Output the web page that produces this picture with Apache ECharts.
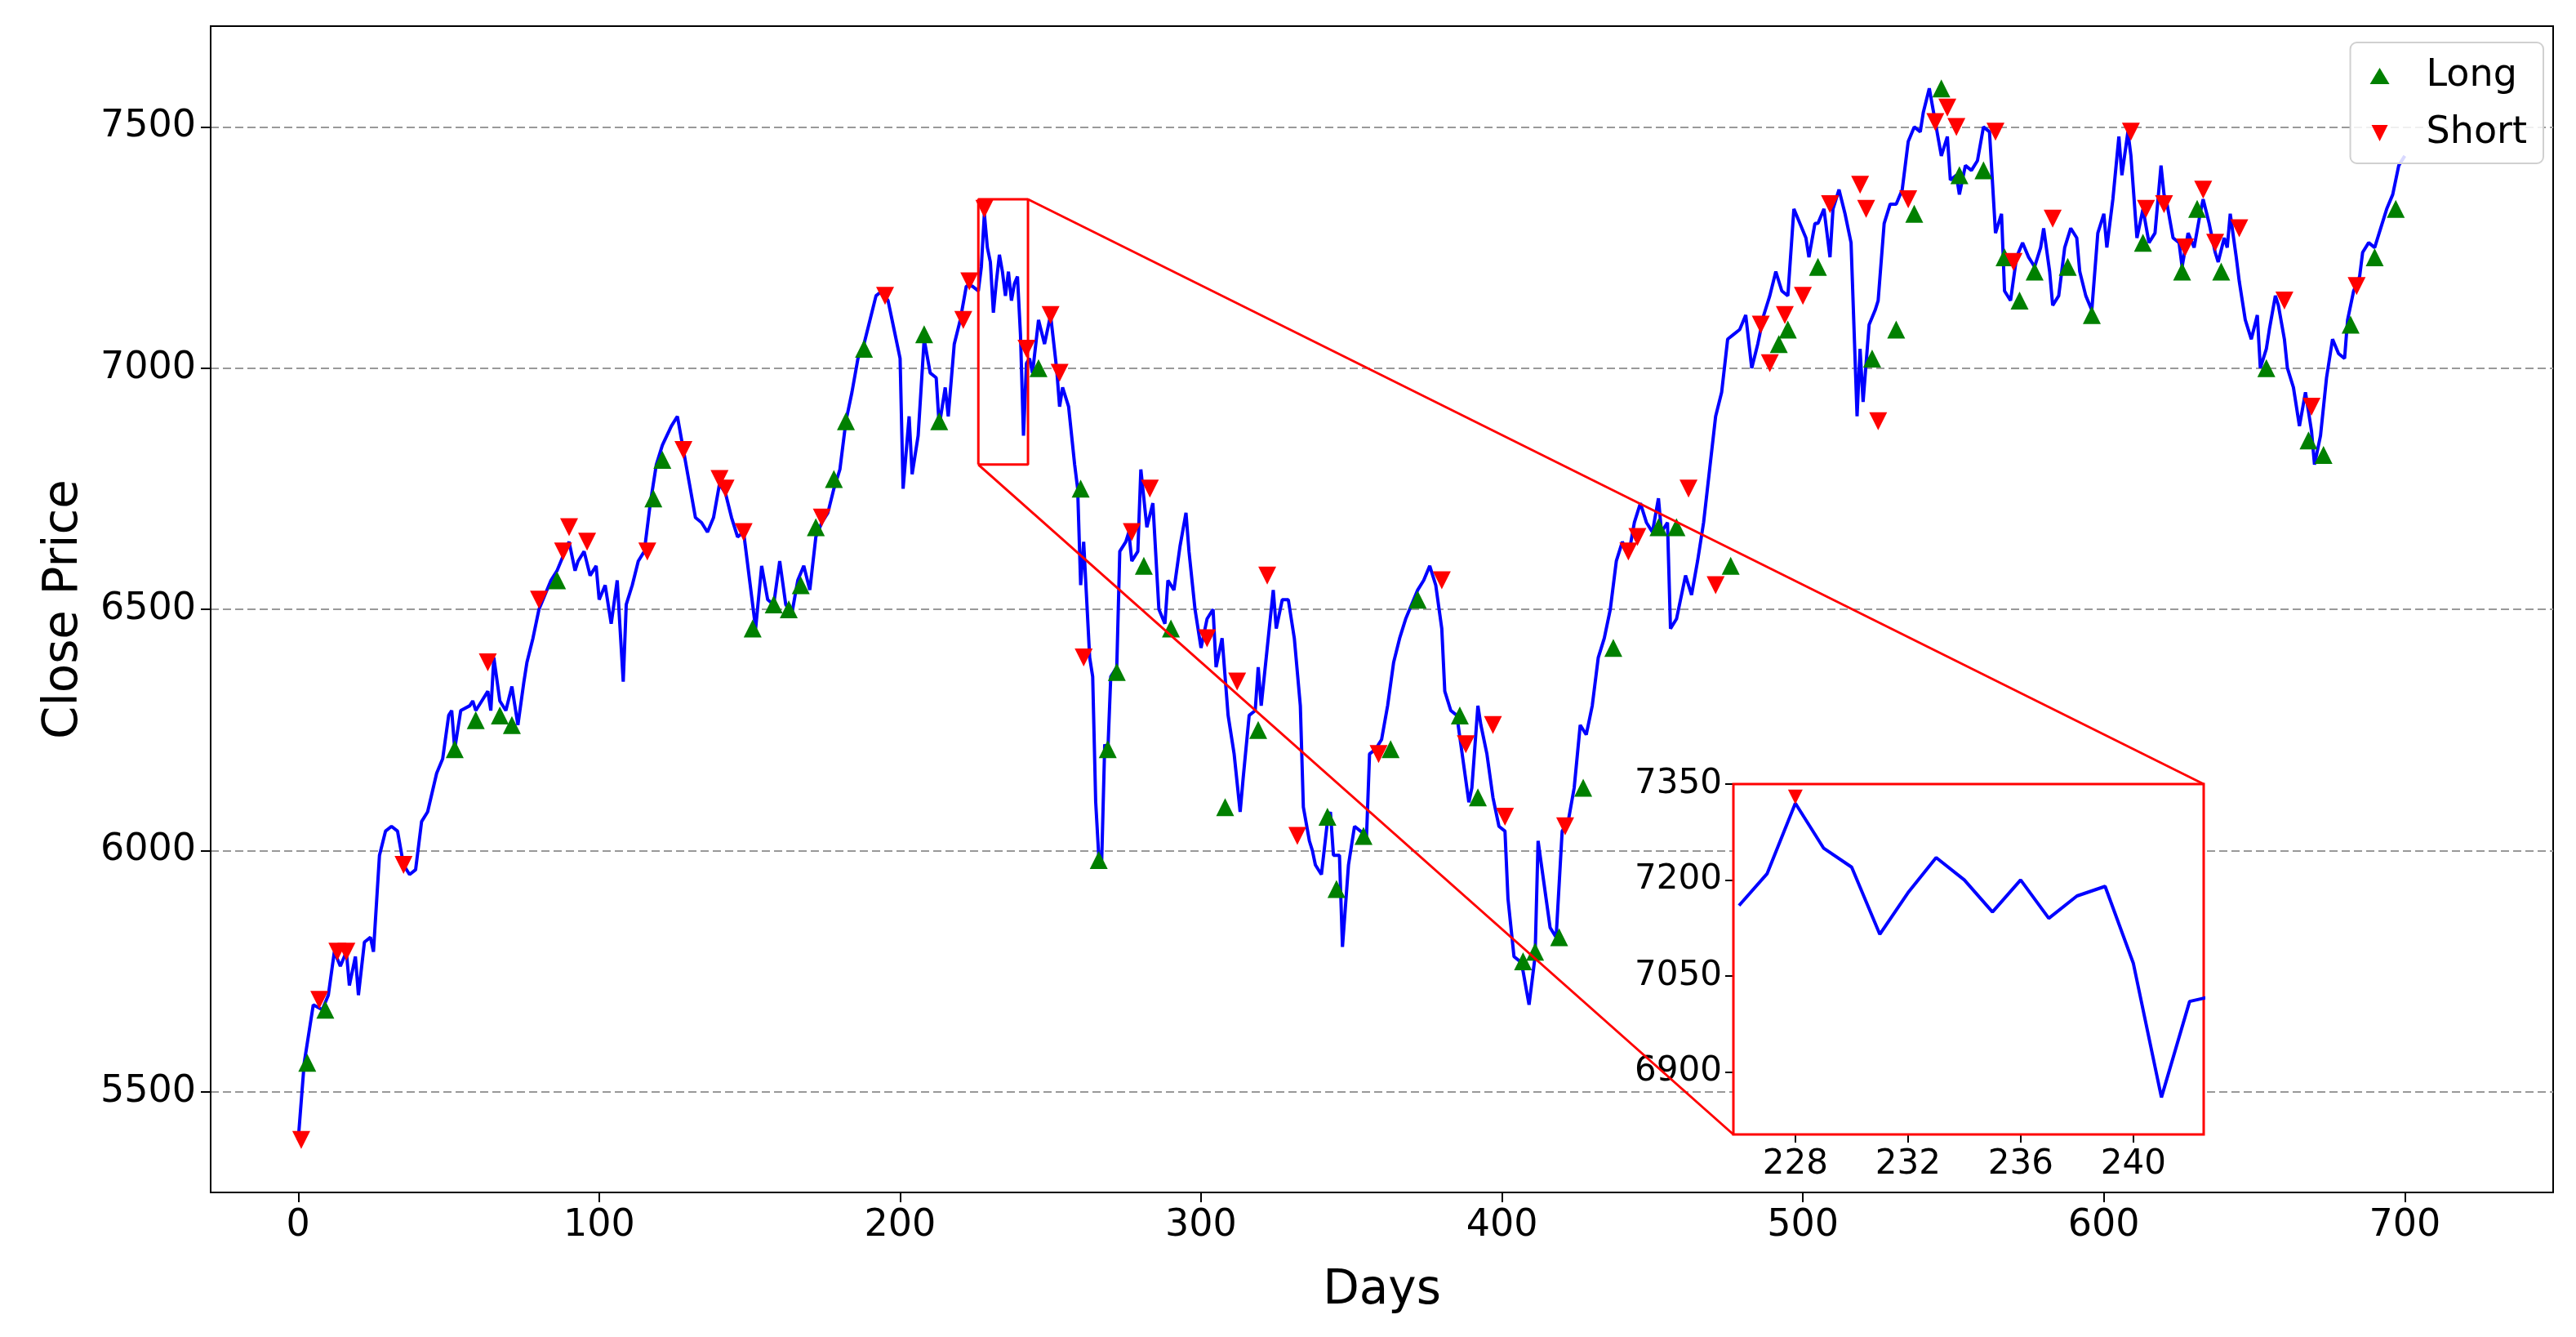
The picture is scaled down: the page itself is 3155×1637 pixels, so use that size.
<!DOCTYPE html>
<html>
<head>
<meta charset="utf-8">
<script src="https://cdn.jsdelivr.net/npm/echarts@6/dist/echarts.min.js"></script>
<style>html,body{margin:0;padding:0;background:#fff}#main{width:3155px;height:1637px}</style>
</head>
<body>
<div id="main"></div>
<script>
// close price (day, value)
var days = [0,2,5,8,10,12,14,16,17,19,20,22,24,25,27,29,31,33,35,37,39,41,43,46,48,50,51,52,54,57,58,59,61,63,64,65,67,69,71,73,75,76,78,80,82,84,86,88,90,92,93,95,97,99,100,102,104,106,108,109,111,113,115,117,119,121,124,126,128,130,132,134,136,138,140,142,144,146,148,150,152,154,156,158,160,162,164,166,168,170,172,174,176,178,180,182,184,186,188,190,192,194,196,198,200,201,203,204,206,208,210,212,213,215,216,218,220,222,224,226,227,228,229,230,231,232,233,234,235,236,237,238,239,240,241,242,243,244,246,248,250,252,253,254,256,258,259,260,261,262,263,264,265,266,267,268,269,270,272,273,275,276,277,279,280,282,284,286,288,289,291,293,295,296,298,300,302,304,305,307,308,309,311,313,314,316,318,319,320,322,324,325,327,329,331,333,334,336,337,338,340,342,343,344,346,347,349,351,353,355,356,358,360,362,364,366,368,370,372,374,376,378,380,381,383,385,387,389,390,392,393,395,397,399,401,402,404,406,407,409,411,412,414,416,418,420,422,424,426,428,430,432,434,436,438,440,442,444,446,448,450,452,453,455,456,458,460,461,463,465,467,469,471,473,475,477,479,481,483,485,487,489,491,493,495,497,499,501,502,504,505,507,509,510,512,514,516,518,519,520,522,524,525,527,529,531,533,535,537,539,540,542,544,546,548,549,551,552,554,556,558,560,562,564,566,567,569,571,573,575,577,579,580,582,583,585,587,589,591,592,594,596,598,600,601,603,605,606,608,609,611,612,613,615,617,619,620,621,623,625,626,628,630,632,633,635,637,638,640,641,642,644,645,647,649,651,652,654,655,657,658,660,661,663,665,667,669,670,672,674,676,678,680,681,683,685,686,688,690,692,694,696,698,700];
var prices = [5400,5560,5680,5670,5700,5790,5760,5790,5720,5780,5700,5810,5820,5790,5990,6040,6050,6040,5970,5950,5960,6060,6080,6160,6190,6280,6290,6210,6290,6300,6310,6290,6310,6330,6290,6400,6310,6290,6340,6260,6350,6390,6440,6500,6530,6560,6580,6610,6640,6580,6600,6620,6570,6590,6520,6550,6470,6560,6350,6510,6550,6600,6620,6720,6800,6840,6880,6900,6830,6760,6690,6680,6660,6690,6760,6740,6690,6650,6660,6560,6460,6590,6520,6510,6600,6510,6490,6560,6590,6540,6650,6680,6700,6750,6790,6890,6950,7020,7050,7100,7150,7160,7140,7080,7020,6750,6900,6780,6860,7060,6990,6980,6880,6960,6900,7050,7100,7170,7170,7160,7210,7320,7250,7220,7115,7180,7235,7200,7150,7200,7140,7175,7190,7070,6860,7010,7020,6990,7100,7050,7110,7000,6920,6960,6920,6800,6750,6550,6640,6520,6400,6360,6100,5990,5980,6220,6200,6360,6380,6620,6640,6660,6600,6620,6790,6670,6720,6500,6470,6560,6540,6630,6700,6620,6500,6420,6480,6500,6380,6440,6360,6280,6200,6080,6150,6280,6290,6380,6300,6420,6540,6460,6520,6520,6440,6300,6090,6020,6000,5970,5950,6060,6080,5990,5990,5800,5970,6050,6040,6030,6200,6210,6230,6300,6390,6440,6480,6510,6540,6560,6590,6550,6460,6330,6290,6280,6190,6100,6130,6300,6260,6200,6110,6050,6040,5900,5780,5770,5750,5680,5780,6020,5930,5840,5820,6040,6060,6130,6260,6240,6300,6400,6440,6500,6600,6640,6610,6680,6720,6680,6660,6730,6660,6680,6460,6480,6540,6570,6530,6600,6680,6790,6900,6950,7060,7070,7080,7110,7000,7050,7110,7150,7200,7160,7150,7330,7300,7270,7230,7300,7300,7330,7230,7330,7370,7320,7260,6900,7040,6930,7090,7120,7140,7300,7340,7340,7370,7470,7500,7490,7530,7580,7510,7440,7480,7390,7400,7360,7420,7410,7430,7500,7490,7280,7320,7160,7140,7230,7260,7230,7210,7250,7290,7200,7130,7150,7250,7290,7270,7200,7150,7120,7280,7320,7250,7350,7480,7400,7490,7440,7270,7300,7330,7260,7280,7420,7360,7340,7270,7260,7210,7280,7250,7320,7350,7300,7240,7220,7270,7250,7320,7230,7180,7100,7060,7110,7000,7040,7080,7150,7130,7060,7000,6960,6880,6950,6870,6800,6860,6980,7060,7030,7020,7100,7160,7190,7240,7260,7250,7290,7330,7360,7420,7440];

var longDays = [3,9,52,59,67,71,86,118,121,151,158,163,167,172,178,182,188,208,213,246,260,266,269,272,281,290,308,319,342,345,354,363,372,386,392,407,411,419,427,437,452,458,476,492,495,505,523,531,537,546,552,560,567,572,577,588,596,613,626,631,639,654,668,673,682,690,697];
var longVals = [5560,5670,6210,6270,6280,6260,6560,6730,6810,6460,6510,6500,6550,6670,6770,6890,7040,7070,6890,7000,6750,5980,6210,6370,6590,6460,6090,6250,6070,5920,6030,6210,6520,6280,6110,5770,5790,5820,6130,6420,6670,6670,6590,7050,7080,7210,7020,7080,7320,7580,7400,7410,7230,7140,7200,7210,7110,7260,7200,7330,7200,7000,6850,6820,7090,7230,7330];
var shortDays = [1,7,13,16,35,63,80,88,90,96,116,128,140,142,148,174,195,221,223,228,242,250,253,261,277,283,302,312,322,332,359,380,388,397,401,421,442,445,462,471,486,489,494,500,509,519,521,525,535,544,548,551,564,570,583,609,614,620,627,633,637,645,660,669,684];
var shortVals = [5400,5690,5790,5790,5970,6390,6520,6620,6670,6640,6620,6830,6770,6750,6660,6690,7150,7100,7180,7330,7040,7110,6990,6400,6660,6750,6440,6350,6570,6030,6200,6560,6220,6260,6070,6050,6620,6650,6750,6550,7090,7010,7110,7150,7340,7380,7330,6890,7350,7510,7540,7500,7490,7220,7310,7490,7330,7340,7250,7370,7260,7290,7140,6920,7170];

var yTicks = [5500, 6000, 6500, 7000, 7500];
var xTicks = [0, 100, 200, 300, 400, 500, 600, 700];
var zoomX = [228, 232, 236, 240];
var zoomY = [6900, 7050, 7200, 7350];
var zoomBox = {x0: 226, x1: 242.5, y0: 6800, y1: 7350};

function pairs(xs, ys) { return xs.map(function (x, i) { return [x, ys[i]]; }); }
var line = pairs(days, prices);
var zoomLine = line.filter(function (p) { return p[0] >= 225 && p[0] <= 243; });
function plain(v) { return String(v); }

var myChart = echarts.init(document.getElementById('main'));
var F = 'DejaVu Sans';
var option = {
    animation: false,
    textStyle: {fontFamily: F},
    grid: [
        {left: 258, right: 28, top: 32, bottom: 177, show: true, borderColor: '#000', borderWidth: 2},
        {left: 2123, width: 576, top: 960, height: 429, show: true, borderColor: '#ff0000', borderWidth: 3, backgroundColor: '#fff', z: 10}
    ],
    legend: {
        right: 40, top: 52, orient: 'vertical', itemGap: 24, padding: [18, 20, 14, 24],
        borderColor: '#d0d0d0', borderWidth: 2, borderRadius: 8, backgroundColor: 'rgba(255,255,255,0.85)',
        itemWidth: 24, itemHeight: 20, textStyle: {fontSize: 46, color: '#000', fontFamily: F, padding: [0, 0, 0, 40]},
        data: [{name: 'Long', icon: 'triangle'}, {name: 'Short', icon: 'path://M0,0 L10,0 L5,10 Z'}]
    },
    xAxis: [
        {type: 'value', gridIndex: 0, min: -29.1, max: 749.3, name: 'Days', nameLocation: 'middle', nameGap: 92,
         nameTextStyle: {fontSize: 58, color: '#000'},
         axisLine: {onZero: false, lineStyle: {color: '#000', width: 2}},
         axisTick: {length: 12, lineStyle: {color: '#000', width: 2}, customValues: xTicks},
         axisLabel: {fontSize: 46, color: '#000', margin: 18, customValues: xTicks, formatter: plain},
         splitLine: {show: false}},
        {type: 'value', gridIndex: 1, min: 225.8, max: 242.5,
         axisLine: {show: false},
         axisTick: {length: 10, lineStyle: {color: '#000', width: 2}, customValues: zoomX},
         axisLabel: {fontSize: 42, color: '#000', margin: 16, customValues: zoomX, formatter: plain},
         splitLine: {show: false}}
    ],
    yAxis: [
        {type: 'value', gridIndex: 0, min: 5291, max: 7709, name: 'Close Price', nameLocation: 'middle', nameGap: 150,
         nameTextStyle: {fontSize: 58, color: '#000'},
         axisLine: {show: true, onZero: false, lineStyle: {color: '#000', width: 2}},
         axisTick: {show: true, length: 12, lineStyle: {color: '#000', width: 2}, customValues: yTicks},
         axisLabel: {fontSize: 46, color: '#000', margin: 18, customValues: yTicks, formatter: plain},
         splitLine: {show: true, lineStyle: {color: '#999', type: [10, 5], width: 2}}},
        {type: 'value', gridIndex: 1, min: 6802, max: 7350,
         axisLine: {show: false, onZero: false},
         axisTick: {show: true, length: 10, lineStyle: {color: '#000', width: 2}, customValues: zoomY},
         axisLabel: {fontSize: 42, color: '#000', margin: 14, customValues: zoomY, formatter: plain},
         splitLine: {show: false}}
    ],
    series: [
        {type: 'line', name: 'Close', data: line, showSymbol: false, lineStyle: {color: '#0000ff', width: 4}, z: 2},
        {type: 'scatter', name: 'Long', data: pairs(longDays, longVals), symbol: 'triangle', symbolSize: 22,
         itemStyle: {color: '#008000', opacity: 1}, z: 3},
        {type: 'scatter', name: 'Short', data: pairs(shortDays, shortVals), symbol: 'triangle', symbolRotate: 180, symbolSize: 22,
         itemStyle: {color: '#ff0000', opacity: 1}, z: 3},
        {type: 'line', name: 'box', silent: true, showSymbol: false, z: 4,
         data: [[zoomBox.x0, zoomBox.y0], [zoomBox.x0, zoomBox.y1], [zoomBox.x1, zoomBox.y1], [zoomBox.x1, zoomBox.y0], [zoomBox.x0, zoomBox.y0]],
         lineStyle: {color: '#ff0000', width: 3}},
        {type: 'line', name: 'zoom', xAxisIndex: 1, yAxisIndex: 1, data: zoomLine, showSymbol: false,
         lineStyle: {color: '#0000ff', width: 4}, z: 11, clip: true},
        {type: 'scatter', xAxisIndex: 1, yAxisIndex: 1, data: [[228, 7330]], symbol: 'triangle', symbolRotate: 180,
         symbolSize: 18, itemStyle: {color: '#ff0000', opacity: 1}, z: 12}
    ]
};
myChart.setOption(option);

// connector lines from the zoom box to the inset
var a = myChart.convertToPixel({gridIndex: 0}, [zoomBox.x1, zoomBox.y1]);
var b = myChart.convertToPixel({gridIndex: 0}, [zoomBox.x0, zoomBox.y0]);
myChart.setOption({
    graphic: [
        {type: 'line', shape: {x1: a[0], y1: a[1], x2: 2699, y2: 960}, style: {stroke: '#ff0000', lineWidth: 3}, z: 5},
        {type: 'line', shape: {x1: b[0], y1: b[1], x2: 2123, y2: 1389}, style: {stroke: '#ff0000', lineWidth: 3}, z: 5}
    ]
});
</script>
</body>
</html>
